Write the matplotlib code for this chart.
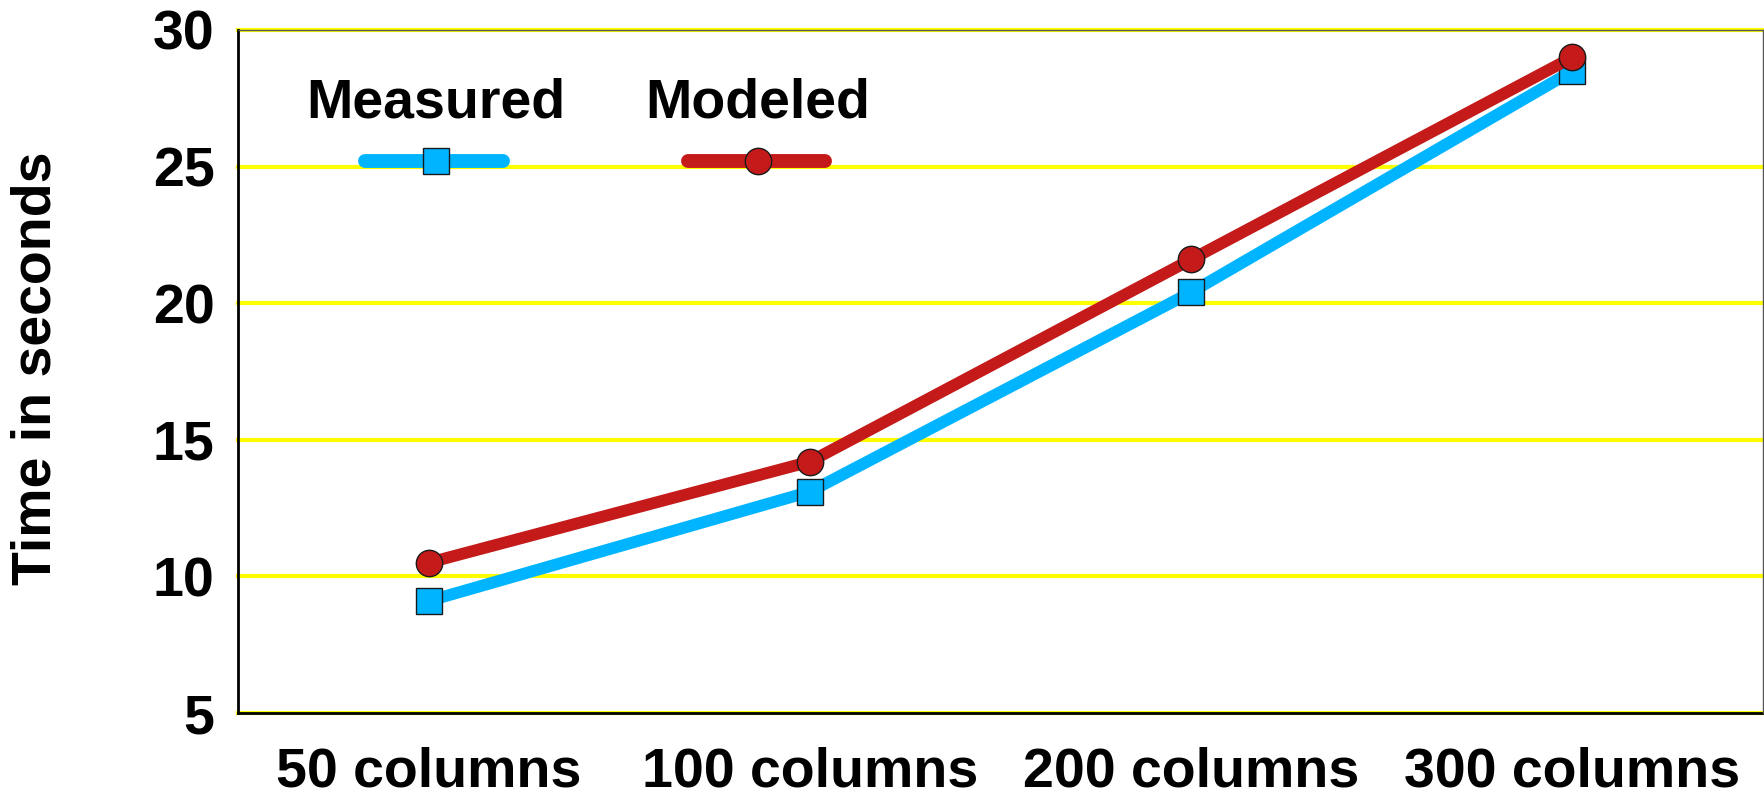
import matplotlib
matplotlib.use("Agg")
import matplotlib.pyplot as plt
from matplotlib.lines import Line2D

categories = ["50 columns", "100 columns", "200 columns", "300 columns"]
measured = [9.1, 13.1, 20.4, 28.5]
modeled = [10.5, 14.2, 21.6, 29.0]
yticks = [5, 10, 15, 20, 25, 30]

BLUE = "#00B4FF"
RED = "#C41A1A"
YELLOW = "#FFFF00"

plt.rcParams['font.family'] = ['Liberation Sans', 'DejaVu Sans']
plt.rcParams['font.weight'] = 'bold'

fig = plt.figure(figsize=(17.65, 7.96), dpi=100)
ax = fig.add_axes([238/1765, 1 - 713/796, 1525/1765, 683/796])

x = list(range(len(categories)))
ax.set_xlim(-0.5, 3.5)
ax.set_ylim(5, 30)
ax.set_yticks(yticks)
ax.set_xticks(x)
ax.set_xticklabels(categories)

for t in yticks:
    ax.axhline(t, color=YELLOW, lw=3, zorder=1, clip_on=False)

ax.plot(x, measured, color=BLUE, lw=8.5, marker='s', ms=19, mfc=BLUE,
        mec='#1a1a1a', mew=1.0, zorder=3, solid_capstyle='butt')
ax.plot(x, modeled, color=RED, lw=8.5, marker='o', ms=19, mfc=RED,
        mec='#1a1a1a', mew=1.0, zorder=4, solid_capstyle='butt')

# manual legend
ly = 0.808
ax.add_line(Line2D([0.083, 0.174], [ly, ly], transform=ax.transAxes, color=BLUE,
                   lw=10, solid_capstyle='round', zorder=5))
ax.add_line(Line2D([0.130], [ly], transform=ax.transAxes, marker='s', ms=19,
                   mfc=BLUE, mec='#1a1a1a', mew=1.0, zorder=6))
ax.add_line(Line2D([0.295, 0.385], [ly, ly], transform=ax.transAxes, color=RED,
                   lw=10, solid_capstyle='round', zorder=5))
ax.add_line(Line2D([0.341], [ly], transform=ax.transAxes, marker='o', ms=19,
                   mfc=RED, mec='#1a1a1a', mew=1.0, zorder=6))
ax.text(0.130, 0.893, "Measured", transform=ax.transAxes, ha='center', va='center',
        fontsize=40, fontweight='bold')
ax.text(0.341, 0.893, "Modeled", transform=ax.transAxes, ha='center', va='center',
        fontsize=40, fontweight='bold')

ax.set_ylabel("Time in seconds", fontsize=40, fontweight='bold', va='center', ha='center')
ax.yaxis.set_label_coords(-0.132, 0.505)
ax.tick_params(axis='both', length=0, labelsize=40)
ax.tick_params(axis='y', pad=17)
ax.tick_params(axis='x', pad=24)

for s in ['left', 'bottom']:
    ax.spines[s].set_color('black')
    ax.spines[s].set_linewidth(2)
    ax.spines[s].set_zorder(2)
for s in ['top', 'right']:
    ax.spines[s].set_color('#555555')
    ax.spines[s].set_linewidth(1)

fig.savefig("out.png", dpi=100)
